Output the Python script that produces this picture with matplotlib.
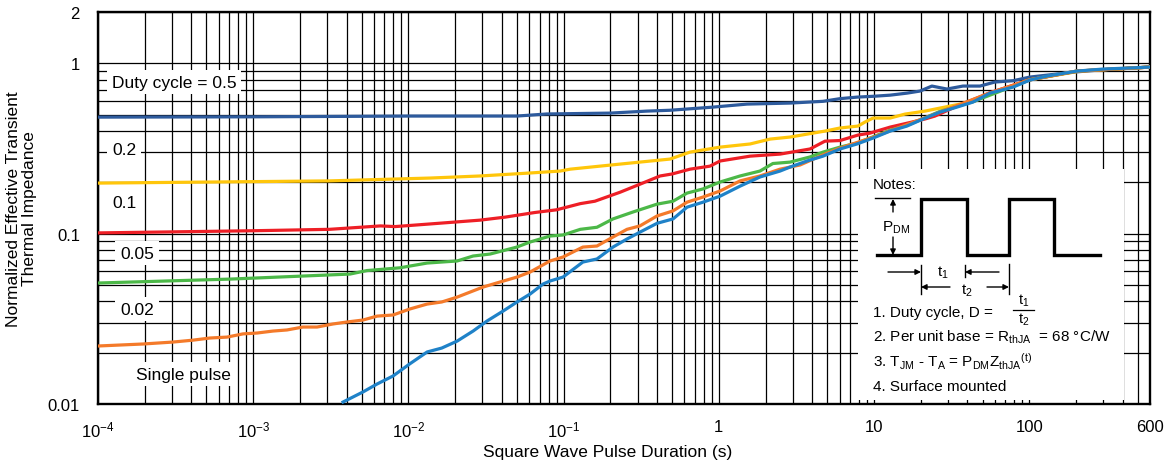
import matplotlib
matplotlib.use("Agg")
import matplotlib.pyplot as plt
from matplotlib.ticker import FixedLocator, LogLocator, NullFormatter
from matplotlib.transforms import Affine2D
from matplotlib.lines import Line2D
from matplotlib.patches import Rectangle, FancyArrowPatch

plt.rcParams['font.family'] = ['Liberation Sans', 'DejaVu Sans']
plt.rcParams['mathtext.fontset'] = 'custom'
plt.rcParams['mathtext.rm'] = 'Liberation Sans'

# ---------------- data ----------------
d05_x = [1e-4, 1e-3, 0.01, 0.05, 0.078, 0.2, 0.344, 0.485, 0.918, 1.52, 2.88, 4.69, 6.04, 7.77,
         9.86, 12.7, 16.3, 19.8, 23.6, 29.5, 37.4, 48.2, 60, 78.7, 101, 200, 290, 600]
d05_y = [0.483, 0.485, 0.49, 0.49, 0.504, 0.51, 0.524, 0.53, 0.553, 0.576, 0.584, 0.598, 0.62, 0.633,
         0.64, 0.65, 0.668, 0.687, 0.735, 0.706, 0.735, 0.735, 0.776, 0.79, 0.83, 0.89, 0.915, 0.95]

d02_x = [1e-4, 3.1e-3, 0.0138, 0.0289, 0.0608, 0.095, 0.11, 0.231, 0.31, 0.485, 0.652, 1.02, 1.59,
         2.14, 2.88, 4.83, 6.04, 7.88, 8.75, 9.86, 12.7, 15.8, 21.3, 30.9, 44.8, 51.9, 75.2, 101, 212, 600]
d02_y = [0.198, 0.204, 0.212, 0.218, 0.227, 0.233, 0.239, 0.256, 0.263, 0.274, 0.301, 0.322, 0.336,
         0.359, 0.369, 0.400, 0.417, 0.428, 0.452, 0.477, 0.477, 0.503, 0.524, 0.561, 0.600, 0.642,
         0.728, 0.80, 0.90, 0.95]

d01_x = [1e-4, 1e-3, 3.1e-3, 6.6e-3, 8.2e-3, 0.0138, 0.0289, 0.042, 0.065, 0.09, 0.128, 0.159, 0.231,
         0.31, 0.418, 0.5, 0.652, 0.877, 1.02, 1.59, 2.48, 3.87, 4.83, 6.04, 7.88, 9.4, 12.7, 17.6,
         21.3, 24.7, 34.2, 55.9, 101, 203, 600]
d01_y = [0.101, 0.104, 0.106, 0.111, 0.110, 0.114, 0.120, 0.125, 0.133, 0.138, 0.150, 0.155, 0.175,
         0.195, 0.218, 0.224, 0.239, 0.249, 0.267, 0.285, 0.293, 0.314, 0.349, 0.352, 0.379, 0.389,
         0.422, 0.452, 0.471, 0.49, 0.56, 0.672, 0.80, 0.90, 0.95]

d005_x = [1e-4, 7.1e-4, 4.2e-3, 5.4e-3, 8.8e-3, 0.0132, 0.0206, 0.0261, 0.0336, 0.05, 0.0608, 0.0817,
          0.0991, 0.128, 0.164, 0.208, 0.28, 0.40, 0.507, 0.624, 0.791, 1.02, 1.37, 1.84, 2.23, 2.88,
          3.87, 4.69, 6.04, 7.77, 9.86, 12.7, 16.3, 19.8, 26.6, 43.4, 101, 203, 600]
d005_y = [0.0513, 0.0541, 0.0579, 0.0607, 0.063, 0.0672, 0.0691, 0.0739, 0.0759, 0.0834, 0.0893, 0.0968,
          0.0982, 0.106, 0.109, 0.122, 0.134, 0.149, 0.155, 0.173, 0.183, 0.201, 0.218, 0.233, 0.258,
          0.263, 0.282, 0.301, 0.322, 0.340, 0.370, 0.405, 0.432, 0.465, 0.522, 0.595, 0.80, 0.90, 0.95]

d002_x = [1e-4, 1.95e-4, 3.04e-4, 4.09e-4, 5.27e-4, 6.78e-4, 8.6e-4, 1.06e-3, 1.34e-3, 1.65e-3,
          2.09e-3, 2.58e-3, 3.27e-3, 4.02e-3, 5.09e-3, 6.28e-3, 7.96e-3, 0.0102, 0.0132, 0.0164,
          0.0206, 0.0303, 0.0389, 0.0501, 0.0608, 0.0817, 0.0991, 0.133, 0.164, 0.208, 0.256, 0.310,
          0.40, 0.507, 0.624, 0.791, 1.02, 1.37, 1.84, 2.48, 3.34, 4.69, 6.04, 9.86, 20.7, 55.9,
          101, 203, 600]
d002_y = [0.0219, 0.0225, 0.0231, 0.0237, 0.0244, 0.0247, 0.0258, 0.0261, 0.0268, 0.0272,
          0.0283, 0.0283, 0.0295, 0.0303, 0.0311, 0.0328, 0.0333, 0.0361, 0.0386, 0.0397,
          0.0424, 0.0486, 0.0520, 0.0556, 0.0595, 0.0691, 0.0729, 0.0834, 0.0846, 0.0955, 0.106, 0.111,
          0.127, 0.136, 0.153, 0.164, 0.178, 0.204, 0.218, 0.239, 0.253, 0.290, 0.318, 0.368, 0.474,
          0.670, 0.80, 0.90, 0.95]

sp_x = [3.79e-3, 5.09e-3, 6.28e-3, 7.96e-3, 0.0102, 0.0132, 0.0164, 0.0206, 0.0261, 0.0321, 0.0407,
        0.0501, 0.0608, 0.0737, 0.0817, 0.0991, 0.133, 0.164, 0.208, 0.256, 0.310, 0.40, 0.507, 0.624,
        0.791, 1.02, 1.37, 1.84, 2.48, 2.88, 3.70, 4.69, 6.04, 7.77, 9.86, 12.7, 16.3, 20.7, 26.6,
        34.2, 43.4, 55.9, 78.7, 101, 130, 203, 299, 427, 600]
sp_y = [0.01027, 0.01176, 0.0131, 0.0146, 0.0172, 0.0202, 0.0213, 0.0234, 0.0268, 0.0307, 0.0351,
        0.0397, 0.0442, 0.0506, 0.0527, 0.0556, 0.0681, 0.0710, 0.0834, 0.0930, 0.102, 0.115, 0.122,
        0.143, 0.153, 0.166, 0.190, 0.215, 0.233, 0.246, 0.267, 0.285, 0.314, 0.336, 0.364, 0.400,
        0.428, 0.471, 0.517, 0.553, 0.592, 0.668, 0.725, 0.797, 0.841, 0.900, 0.925, 0.937, 0.950]

series = [
    (d05_x, d05_y, '#2d5a9c'),
    (d02_x, d02_y, '#ffc60b'),
    (d01_x, d01_y, '#ee1f26'),
    (d005_x, d005_y, '#4cb848'),
    (d002_x, d002_y, '#f47a2a'),
    (sp_x, sp_y, '#1f82c8'),
]

curve_labels = ['Duty cycle = 0.5', '0.2', '0.1', '0.05', '0.02', 'Single pulse']
xtick_vals = [1e-4, 1e-3, 1e-2, 1e-1, 1, 10, 100, 600]
xtick_labels = [r'$\mathregular{10^{-4}}$', r'$\mathregular{10^{-3}}$', r'$\mathregular{10^{-2}}$',
                r'$\mathregular{10^{-1}}$', '1', '10', '100', '600']
ytick_vals = [0.01, 0.1, 1, 2]
ytick_labels = ['0.01', '0.1', '1', '2']

# ---------------- figure ----------------
W, H = 1165, 464
fig = plt.figure(figsize=(W / 100, H / 100), dpi=100)
ax = fig.add_axes([98 / W, 1 - 405 / H, (1150 - 98) / W, (405 - 13) / H])
ax.set_xscale('log')
ax.set_yscale('log')
ax.set_xlim(1e-4, 600)
ax.set_ylim(0.01, 2)
ax.set_axisbelow(True)

ax.xaxis.set_major_locator(FixedLocator(xtick_vals))
ax.set_xticklabels(xtick_labels)
ax.xaxis.set_minor_locator(LogLocator(base=10, subs=range(2, 10), numticks=50))
ax.xaxis.set_minor_formatter(NullFormatter())
ax.yaxis.set_major_locator(FixedLocator(ytick_vals))
ax.set_yticklabels(ytick_labels)
ax.yaxis.set_minor_locator(LogLocator(base=10, subs=range(2, 10), numticks=50))
ax.yaxis.set_minor_formatter(NullFormatter())

ax.grid(True, which='both', color='black', lw=0.9)
ax.tick_params(which='both', length=0, labelsize=12)
ax.tick_params(axis='x', pad=11)
ax.tick_params(axis='y', pad=13)
for s in ax.spines.values():
    s.set_linewidth(1.7)

for xs, ys, c in series:
    ax.plot(xs, ys, color=c, lw=2.3, solid_joinstyle='round', zorder=3)

ax.set_ylabel('Normalized Effective Transient\nThermal Impedance', fontsize=12.5, labelpad=8,
              linespacing=1.05)

# curve labels (positions in axes fraction)
label_pos = [(0.0133, 0.8214), (0.0133, 0.648), (0.0133, 0.515), (0.0209, 0.385), (0.0209, 0.242),
             (0.0361, 0.0765)]
for txt, (lx, ly) in zip(curve_labels, label_pos):
    ax.text(lx, ly, txt, transform=ax.transAxes, fontsize=12.5, va='center', ha='left', zorder=2,
            bbox=dict(facecolor='white', edgecolor='none', pad=3.5))

# ---------------- figure-pixel helpers ----------------
px = Affine2D().scale(1 / W, -1 / H).translate(0, 1) + fig.transFigure

fig.text(608, 453, 'Square Wave Pulse Duration (s)', transform=px, fontsize=12.5, va='center',
         ha='center')

fig.add_artist(Rectangle((858, 170), 1124 - 858, 401 - 170, transform=px, facecolor='white',
                         edgecolor='none', zorder=1))

fs = 11
fig.text(873, 185, 'Notes:', transform=px, fontsize=fs, va='center', ha='left', zorder=4)

wx = [877, 921, 921, 967, 967, 1009, 1009, 1054, 1054, 1100]
wy = [256, 256, 200, 200, 256, 256, 200, 200, 256, 256]
fig.add_artist(Line2D(wx, wy, transform=px, color='black', lw=2.4, zorder=4,
                      solid_joinstyle='miter'))
fig.add_artist(Line2D([875, 910], [199, 199], transform=px, color='black', lw=1.0, zorder=4))


def arrow(p0, p1):
    fig.add_artist(FancyArrowPatch(p0, p1, transform=px, arrowstyle='-|>', mutation_scale=8,
                                   lw=1.0, color='black', shrinkA=0, shrinkB=0, zorder=4))


def vline(x, y0, y1):
    fig.add_artist(Line2D([x, x], [y0, y1], transform=px, color='black', lw=1.0, zorder=4))


arrow((893, 213), (893, 200))
arrow((893, 238), (893, 256))
fig.text(882, 228, r'P$\mathregular{_{DM}}$', transform=px, fontsize=fs, va='center', ha='left',
         zorder=4)

arrow((888, 273), (921, 273))
vline(921, 266, 295)
vline(965, 266, 278)
arrow((999, 273), (965, 273))
fig.text(943, 273, r't$\mathregular{_1}$', transform=px, fontsize=fs, va='center', ha='center', zorder=4)
arrow((950, 288), (921, 288))
arrow((987, 288), (1009, 288))
vline(1009, 265, 295)
fig.text(967, 291, r't$\mathregular{_2}$', transform=px, fontsize=fs, va='center', ha='center', zorder=4)

fig.text(873, 313, '1. Duty cycle, D = ', transform=px, fontsize=fs, va='center', ha='left', zorder=4)
fig.text(1024, 301, r't$\mathregular{_1}$', transform=px, fontsize=10.5, va='center', ha='center', zorder=4)
fig.add_artist(Line2D([1013, 1034], [311, 311], transform=px, color='black', lw=0.9, zorder=4))
fig.text(1024, 320, r't$\mathregular{_2}$', transform=px, fontsize=10.5, va='center', ha='center', zorder=4)
fig.text(873, 337, r'2. Per unit base = R$\mathregular{_{thJA}}$  = 68 °C/W', transform=px, fontsize=fs,
         va='center', ha='left', zorder=4)
fig.text(873, 362, r'3. T$\mathregular{_{JM}}$ - T$\mathregular{_A}$ = P$\mathregular{_{DM}}$Z$\mathregular{_{thJA}}$$\mathregular{^{(t)}}$',
         transform=px, fontsize=fs, va='center', ha='left', zorder=4)
fig.text(873, 387, '4. Surface mounted', transform=px, fontsize=fs, va='center', ha='left', zorder=4)

fig.savefig('out.png', dpi=100)
